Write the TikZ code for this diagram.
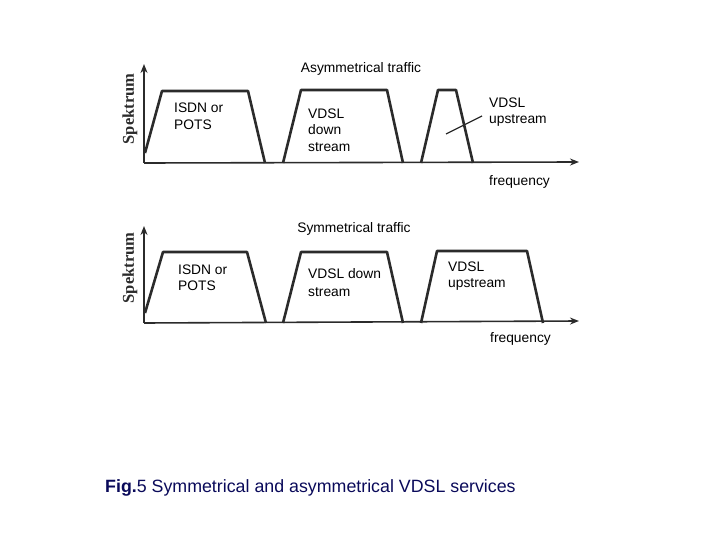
\documentclass[tikz,border=0pt]{standalone}
\usepackage{fontspec}
\setmainfont{Liberation Sans}
\newfontfamily\spekfont{Liberation Serif}
\usetikzlibrary{arrows.meta}
\definecolor{ink}{HTML}{2B2B2B}
\definecolor{capblue}{HTML}{0A0A5A}
\begin{document}
\begin{tikzpicture}[x=1pt,y=-1pt,
  axis/.style={draw=ink,line width=1.6pt,-{Stealth[length=9pt,width=7pt]}},
  band/.style={draw=ink,line width=2.6pt,line join=round},
  lbl/.style={anchor=base west,inner sep=0pt,font=\fontsize{13.8}{15}\selectfont,text=black},
  ttl/.style={anchor=base,inner sep=0pt,font=\fontsize{13.8}{15}\selectfont,text=black},
  spek/.style={rotate=90,inner sep=0pt,font=\spekfont\bfseries\fontsize{16.5}{18}\selectfont,text=ink},
  pointer/.style={draw=ink,line width=1.3pt}]
\useasboundingbox (0,0) rectangle (720,540);

% ---------- top: asymmetrical ----------
\coordinate (o1) at (144,163);
\coordinate (y1) at (144,64);
\coordinate (x1) at (579,162);
\draw[band] (145,153) -- (162,91) -- (248,91) -- (265,163);
\draw[band] (283,163) -- (301,90) -- (387,90) -- (403,163);
\draw[band] (421,163) -- (438,90) -- (456,90) -- (473,163);
\draw[axis] (o1) -- (y1);
\draw[axis] (o1) -- (x1);
\node[spek] (s1) at (130,109) {Spektrum};
\node[ttl] (t1) at (361,73) {Asymmetrical traffic};
\node[lbl] (a1) at (174,113) {ISDN or};
\node[lbl] (a2) at (174,130) {POTS};
\node[lbl] (b1) at (308,119) {VDSL};
\node[lbl] (b2) at (308,135) {down};
\node[lbl] (b3) at (308,152) {stream};
\node[lbl] (c1) at (489,108) {VDSL};
\node[lbl] (c2) at (489,124) {upstream};
\node[lbl] (f1) at (489,186) {frequency};
\coordinate (p1) at (446,134);
\coordinate (p2) at (482,116);
\draw[pointer] (p1) -- (p2);

% ---------- bottom: symmetrical ----------
\coordinate (o2) at (144,323);
\coordinate (y2) at (144,226);
\coordinate (x2) at (579,321);
\draw[band] (145,313) -- (163,252) -- (247,252) -- (266,323);
\draw[band] (283,323) -- (301,252) -- (387,252) -- (403,323);
\draw[band] (421,323) -- (437,251) -- (527,251) -- (543,323);
\draw[axis] (o2) -- (y2);
\draw[axis] (o2) -- (x2);
\node[spek] (s2) at (130,268) {Spektrum};
\node[ttl] (t2) at (354,233) {Symmetrical traffic};
\node[lbl] (d1) at (178,274) {ISDN or};
\node[lbl] (d2) at (178,290) {POTS};
\node[lbl] (e1) at (308,278) {VDSL down};
\node[lbl] (e2) at (308,296) {stream};
\node[lbl] (g1) at (448,271) {VDSL};
\node[lbl] (g2) at (448,287) {upstream};
\node[lbl] (f2) at (490,342) {frequency};

% ---------- caption ----------
\node[anchor=base west,inner sep=0pt,text=capblue,font=\fontsize{17.8}{20}\selectfont] (cap) at (105,492) {\textbf{Fig.}5 Symmetrical and asymmetrical VDSL services};
\end{tikzpicture}
\end{document}
